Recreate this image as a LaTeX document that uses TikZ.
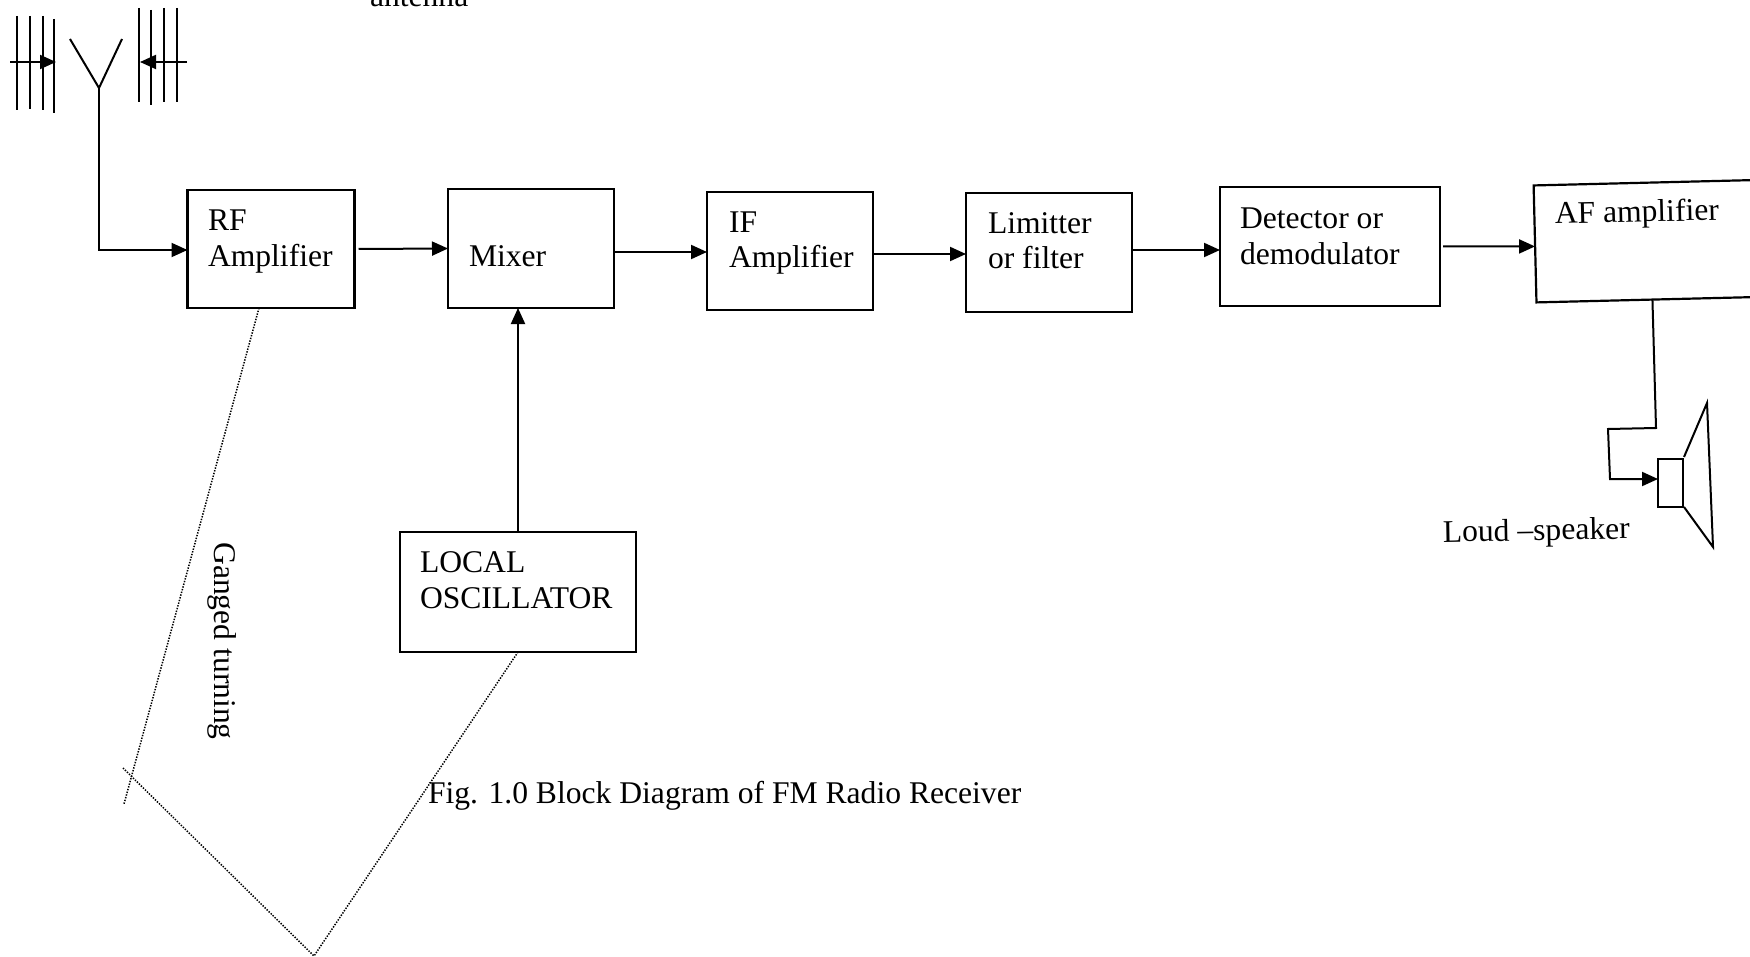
\documentclass[tikz,border=0pt]{standalone}
\usepackage{fontspec}
\setmainfont{Liberation Serif}
\usetikzlibrary{arrows.meta}
\tikzset{
  blk/.style={draw=black,line width=1.1pt,inner sep=0pt,outer sep=0pt},
  txt/.style={inner sep=0pt,outer sep=0pt,anchor=base west,align=left,font=\fontsize{15.8}{17.9}\selectfont,text=black},
  wire/.style={draw=black,line width=1pt},
  arr/.style={wire,-{Triangle[length=8pt,width=7pt]}},
  thin line/.style={draw=black,line width=1pt},
  gang/.style={draw=black,line width=0.75pt,dash pattern=on 0.7pt off 0.7pt}
}
\newcommand{\boxnode}[6]{\node[blk,minimum width=#4*0.5pt,minimum height=#5*0.5pt,#6] (#1) at (#2,#3) {};}
\begin{document}
\begin{tikzpicture}[x=0.5pt,y=-0.5pt]
\useasboundingbox (0,0) rectangle (1750,957);
\fill[white] (0,0) rectangle (1750,957);
% blocks
\boxnode{rf}{271}{249}{167}{118}{}
\boxnode{mixer}{531}{248.5}{166}{119}{}
\boxnode{ifa}{790}{251}{166}{118}{}
\boxnode{lim}{1049}{252.5}{166}{119}{}
\boxnode{det}{1330}{246.5}{220}{119}{}
\boxnode{af}{1655}{241}{240}{117}{rotate=1.4}
\boxnode{lo}{518}{592}{236}{120}{}
\boxnode{spk}{1670.5}{483}{25}{48}{}
% block texts
\node[txt] (rft) at (208,266) {RF\\Amplifier};
\node[txt] (mixt) at (469,266) {Mixer};
\node[txt] (ift) at (729,268) {IF\\Amplifier};
\node[txt] (limt) at (988,269) {Limitter\\or filter};
\node[txt] (dett) at (1240,264) {Detector or\\demodulator};
\node[txt,rotate=1.4] (aft) at (1555,224) {AF amplifier};
\node[txt] (lot) at (420,608) {LOCAL\\OSCILLATOR};
\node[txt,rotate=1] (spkt) at (1443,542) {Loud --speaker};
\node[txt] (fig) at (428,803) {Fig. 1.0 Block Diagram of FM Radio Receiver};
\node[txt] (ant) at (370,7) {antenna};
\node[txt,anchor=center,rotate=-90] (gt) at (222,641) {Ganged turning};
% antenna
\coordinate (yl) at (70,39);
\coordinate (yr) at (122,39);
\coordinate (yj) at (99,88);
\coordinate (feed) at (99,250);
\draw[wire] (yl) -- (yj) -- (yr);
\draw[arr] (yj) -- (feed) -- (rf.west |- feed);
% wave fronts
\foreach \xa/\ya/\yb in {17/16/110,30/16/109,43/16/110,54/19/113,139/8/102,151/10/105,164/8/102,177/8/102}
  \draw[thin line] (\xa,\ya) -- (\xa,\yb);
\coordinate (wl0) at (10,62);
\coordinate (wl1) at (56,62);
\coordinate (wr0) at (187,62);
\coordinate (wr1) at (140,62);
\draw[arr] (wl0) -- (wl1);
\draw[arr] (wr0) -- (wr1);
% chain
\draw[arr] ([xshift=2pt]rf.east) -- (mixer.west);
\draw[arr] ([yshift=-1.75pt]mixer.east) -- ([yshift=-0.5pt]ifa.west);
\draw[arr] ([yshift=-1.5pt]ifa.east) -- ([yshift=-0.75pt]lim.west);
\draw[arr] ([yshift=1.25pt]lim.east) -- ([yshift=-1.75pt]det.west);
\draw[arr] ([xshift=1.5pt]det.east) -- ([yshift=-1.25pt]af.west);
\draw[arr] (lo.north) -- (lo.north |- mixer.south);
% speaker
\coordinate (w1) at (1656,428);
\coordinate (w2) at (1608,429);
\coordinate (w3) at (1610,479);
\draw[arr] ([xshift=-2pt]af.south) -- (w1) -- (w2) -- (w3) -- (spk.west |- w3);
\coordinate (c1) at (1684,457);
\coordinate (c2) at (1707,403);
\coordinate (c3) at (1713,547);
\coordinate (c4) at (1684,507);
\draw[thin line] (c1) -- (c2) -- (c3) -- (c4);
% ganged tuning
\coordinate (g1) at (124,804);
\coordinate (g2) at (123,768);
\coordinate (g3) at (314,956);
\draw[gang] ([xshift=-6pt]rf.south) -- (g1);
\draw[gang] (g2) -- (g3) -- (lo.south);
\end{tikzpicture}
\end{document}
